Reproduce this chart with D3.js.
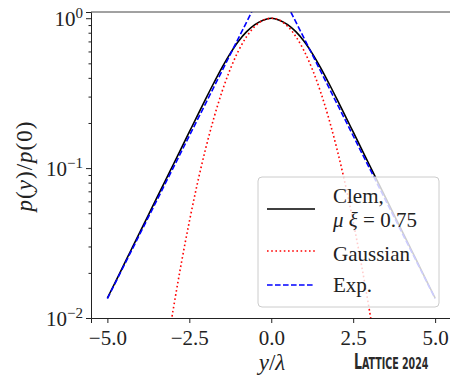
<!DOCTYPE html>
<html>
<head>
<meta charset="utf-8">
<script src="https://cdn.jsdelivr.net/npm/d3@7"></script>
<style>
  body { margin: 0; background: #fff; }
  svg text { font-family: "Liberation Serif", "DejaVu Serif", serif; fill: #222; }
</style>
</head>
<body>
<svg width="450" height="377"></svg>
<script>
// values (p(y)/p(0), log axis)
const clemX = [-5, -4.75, -4.5, -4.25, -4, -3.75, -3.5, -3.25, -3, -2.75, -2.5, -2.25, -2, -1.75, -1.5, -1.25, -1, -0.75, -0.5, -0.25,
               0, 0.25, 0.5, 0.75, 1, 1.25, 1.5, 1.75, 2, 2.25, 2.5, 2.75, 3, 3.25, 3.5, 3.75, 4, 4.25, 4.5, 4.75, 5];
const clemY = [0.0136, 0.0175, 0.0226, 0.0292, 0.0377, 0.0486, 0.0628, 0.0809, 0.1045, 0.1349, 0.1742, 0.2249, 0.2897, 0.371, 0.470, 0.583, 0.702, 0.813, 0.906, 0.970,
               1.0, 0.970, 0.906, 0.813, 0.702, 0.583, 0.470, 0.371, 0.2897, 0.2249, 0.1742, 0.1349, 0.1045, 0.0809, 0.0628, 0.0486, 0.0377, 0.0292, 0.0226, 0.0175, 0.0136];

const gaussX = [-3.25, -3, -2.75, -2.5, -2.25, -2, -1.75, -1.5, -1.25, -1, -0.75, -0.5, -0.25,
                0, 0.25, 0.5, 0.75, 1, 1.25, 1.5, 1.75, 2, 2.25, 2.5, 2.75, 3, 3.25];
const gaussY = [0.00506, 0.0111, 0.0228, 0.0439, 0.0796, 0.1353, 0.2163, 0.3247, 0.4578, 0.6065, 0.7548, 0.8825, 0.9692,
                1.0, 0.9692, 0.8825, 0.7548, 0.6065, 0.4578, 0.3247, 0.2163, 0.1353, 0.0796, 0.0439, 0.0228, 0.0111, 0.00506];

const expX = [-5, -4, -3, -2, -1, 0, 1, 2, 3, 4, 5];
const expY = [0.01348, 0.03663, 0.09957, 0.2707, 0.7358, 2.0, 0.7358, 0.2707, 0.09957, 0.03663, 0.01348];

const xTicks = [-5, -2.5, 0, 2.5, 5];
const yTicks = [0.01, 0.1, 1];
const yTickExp = ["\u22122", "\u22121", "0"];
const yMinor = [0.02, 0.03, 0.04, 0.05, 0.06, 0.07, 0.08, 0.09, 0.2, 0.3, 0.4, 0.5, 0.6, 0.7, 0.8, 0.9];

const margin = {top: 12, right: -1.5, bottom: 59, left: 91};
const W = 450, H = 377;
const width = W - margin.left - margin.right;
const height = H - margin.top - margin.bottom;

const svg = d3.select("svg");
const g = svg.append("g").attr("transform", `translate(${margin.left},${margin.top})`);

const x = d3.scaleLinear().domain([-5.5, 5.5]).range([0, width]);
const y = d3.scaleLog().domain([0.01, 1.1]).range([height, 0]);

svg.append("defs").append("clipPath").attr("id", "plot-clip")
  .append("rect").attr("width", width).attr("height", height);

// curves
const toPts = (xs, ys) => xs.map((d, i) => [x(d), y(ys[i])]);
const smooth = d3.line().curve(d3.curveCatmullRom);
const straight = d3.line();

const plot = g.append("g").attr("clip-path", "url(#plot-clip)");

plot.append("path")
  .attr("d", smooth(toPts(clemX, clemY)))
  .attr("fill", "none").attr("stroke", "#000").attr("stroke-width", 1.6);

plot.append("path")
  .attr("d", smooth(toPts(gaussX, gaussY)))
  .attr("fill", "none").attr("stroke", "#ff0000").attr("stroke-width", 1.6)
  .attr("stroke-dasharray", "1.6,2.6");

plot.append("path")
  .attr("d", straight(toPts(expX, expY)))
  .attr("fill", "none").attr("stroke", "#0000ff").attr("stroke-width", 1.6)
  .attr("stroke-dasharray", "5.6,2.4");

// x axis
const xAxis = g.append("g")
  .attr("transform", `translate(0,${height})`)
  .call(d3.axisBottom(x).tickValues(xTicks).tickSize(5).tickPadding(7).tickFormat(d3.format(".1f")));
xAxis.selectAll("text").attr("font-size", 21);

// y axis, major + minor
const yAxis = g.append("g")
  .call(d3.axisLeft(y).tickValues(yTicks).tickSize(5).tickFormat(""));
g.append("g")
  .call(d3.axisLeft(y).tickValues(yMinor).tickSize(2.5).tickFormat(""))
  .select(".domain").remove();

yTicks.forEach((v, i) => {
  const t = g.append("text")
    .attr("x", -8)
    .attr("y", y(v) + 8)
    .attr("text-anchor", "end")
    .attr("font-size", 21);
  t.append("tspan").text("10");
  t.append("tspan").attr("font-size", 15).attr("dy", -8).text(yTickExp[i]);
});

g.selectAll(".domain, .tick line").attr("stroke", "#222").attr("stroke-width", 1);

// top and right spines
g.append("line").attr("x1", 0).attr("x2", width).attr("y1", 0).attr("y2", 0).attr("stroke", "#444");
g.append("line").attr("x1", width).attr("x2", width).attr("y1", 0).attr("y2", height).attr("stroke", "#222");

// axis labels
svg.append("text")
  .attr("x", 272).attr("y", 370)
  .attr("text-anchor", "middle")
  .attr("font-size", 23)
  .html('<tspan font-style="italic">y</tspan>/<tspan font-style="italic">λ</tspan>');

svg.append("text")
  .attr("transform", "translate(32,166) rotate(-90)")
  .attr("text-anchor", "middle")
  .attr("font-size", 23)
  .attr("letter-spacing", 1)
  .html('<tspan font-style="italic">p</tspan>(<tspan font-style="italic">y</tspan>)/<tspan font-style="italic">p</tspan>(0)');

// legend
const leg = svg.append("g").attr("transform", "translate(258,177)");
leg.append("rect")
  .attr("width", 181).attr("height", 130).attr("rx", 4)
  .attr("fill", "#fff").attr("fill-opacity", 0.8)
  .attr("stroke", "#cccccc").attr("stroke-width", 1);

const legItems = [
  {y: 32, color: "#000", dash: null},
  {y: 74, color: "#ff0000", dash: "1.6,2.6"},
  {y: 108, color: "#0000ff", dash: "5.6,2.4"}
];
legItems.forEach(d => {
  leg.append("line")
    .attr("x1", 9).attr("x2", 57).attr("y1", d.y).attr("y2", d.y)
    .attr("stroke", d.color).attr("stroke-width", 1.6)
    .attr("stroke-dasharray", d.dash);
});
leg.append("text").attr("x", 75).attr("y", 26).attr("font-size", 21).text("Clem,");
leg.append("text").attr("x", 75).attr("y", 50).attr("font-size", 21)
  .html('<tspan font-style="italic">μ</tspan> <tspan font-style="italic">ξ</tspan> = 0.75');
leg.append("text").attr("x", 75).attr("y", 84).attr("font-size", 21).text("Gaussian");
leg.append("text").attr("x", 75).attr("y", 115).attr("font-size", 21).text("Exp.");

// watermark: big "L" + small caps rest, squeezed horizontally
const wm = svg.append("text")
  .attr("transform", "translate(354,369) scale(0.66,1)")
  .style("font-family", "'Liberation Sans Narrow', 'DejaVu Sans Condensed', 'Roboto', sans-serif")
  .style("font-weight", "bold")
  .style("fill", "#2a2a2a")
  .attr("font-size", 16);
wm.append("tspan").attr("font-size", 21).text("L");
wm.append("tspan").text("ATTICE 2024");
</script>
</body>
</html>
